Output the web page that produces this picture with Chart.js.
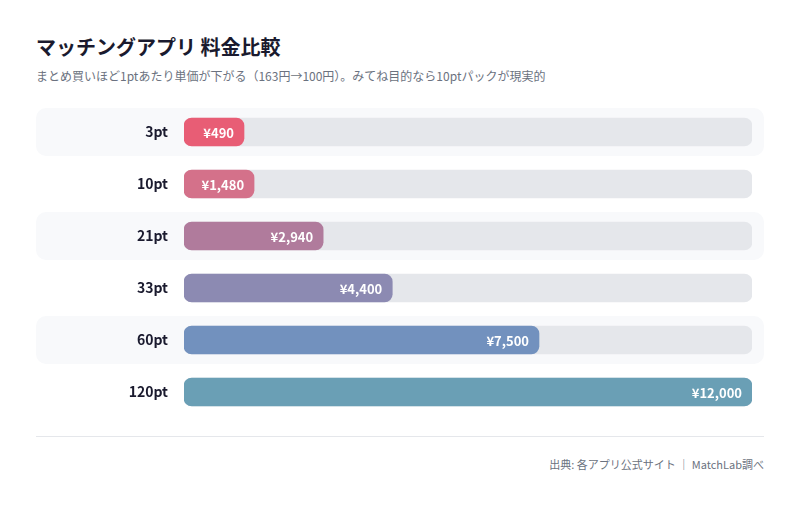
<!DOCTYPE html>
<html lang="ja">
<head>
<meta charset="utf-8">
<script src="https://cdn.jsdelivr.net/npm/chart.js@4"></script>
<style>
  body { margin: 0; background: #fff; font-family: "Noto Sans CJK JP", "Noto Sans", sans-serif; }
  .wrap { position: relative; width: 800px; height: 505px; }
  h1 { position: absolute; left: 36px; top: 33px; margin: 0; font-size: 20px; font-weight: 700; color: #1a1a2e; line-height: 28px; }
  .sub { position: absolute; left: 36px; top: 67px; margin: 0; font-size: 12px; color: #6b7280; line-height: 18px; }
  .chart { position: absolute; left: 36px; top: 106px; width: 728px; height: 312px; }
  .rule { position: absolute; left: 36px; top: 436px; width: 728px; height: 1px; background: #e5e7eb; }
  .src { position: absolute; right: 36px; top: 456px; font-size: 11px; color: #6b7280; line-height: 16px; }
</style>
</head>
<body>
<div class="wrap">
  <h1>マッチングアプリ 料金比較</h1>
  <p class="sub">まとめ買いほど1ptあたり単価が下がる（163円→100円）。みてね目的なら10ptパックが現実的</p>
  <div class="chart"><canvas id="bars"></canvas></div>
  <div class="rule"></div>
  <div class="src">出典: 各アプリ公式サイト ｜ MatchLab調べ</div>
</div>
<script>
var packs = ['3pt', '10pt', '21pt', '33pt', '60pt', '120pt'];
var prices = [490, 1480, 2940, 4400, 7500, 12000];
var barColors = ['#e85d75', '#d4718a', '#b07b9c', '#8c8ab2', '#7291be', '#6a9fb5'];
var maxPrice = 12000;

var rowBands = {
	id: 'rowBands',
	beforeDraw: function(chart) {
		var ctx = chart.ctx;
		var y = chart.scales.y;
		ctx.save();
		ctx.fillStyle = '#f8f9fb';
		for (var i = 0; i < packs.length; i += 2) {
			var cy = y.getPixelForValue(i);
			ctx.beginPath();
			ctx.roundRect(0, cy - 24, chart.width, 48, 10);
			ctx.fill();
		}
		ctx.restore();
	}
};

var valueLabels = {
	id: 'valueLabels',
	afterDatasetsDraw: function(chart) {
		var ctx = chart.ctx;
		var meta = chart.getDatasetMeta(0);
		ctx.save();
		ctx.font = 'bold 13px "Noto Sans CJK JP", "Noto Sans", sans-serif';
		ctx.fillStyle = '#ffffff';
		ctx.textAlign = 'right';
		ctx.textBaseline = 'middle';
		meta.data.forEach(function(bar, i) {
			ctx.fillText('¥' + prices[i].toLocaleString('en-US'), bar.x - 10, bar.y + 1);
		});
		ctx.restore();
	}
};

new Chart(document.getElementById('bars'), {
	type: 'bar',
	data: {
		labels: packs,
		datasets: [{
			data: prices,
			backgroundColor: barColors,
			borderRadius: 8,
			borderSkipped: false,
			barThickness: 28,
			minBarLength: 60,
			grouped: false
		}, {
			data: packs.map(function() { return maxPrice; }),
			backgroundColor: '#e5e7eb',
			borderRadius: 8,
			borderSkipped: false,
			barThickness: 28,
			grouped: false
		}]
	},
	options: {
		indexAxis: 'y',
		responsive: true,
		maintainAspectRatio: false,
		animation: false,
		layout: { padding: { left: 0, right: 12, top: 0, bottom: 0 } },
		plugins: { legend: { display: false }, tooltip: { enabled: false } },
		scales: {
			x: { display: false, min: 0, max: maxPrice },
			y: {
				grid: { display: false, drawTicks: false },
				border: { display: false },
				afterFit: function(scale) {
					scale.width = 148;
					scale.paddingTop = 0;
					scale.paddingBottom = 0;
				},
				ticks: {
					padding: 16,
					color: '#1a1a2e',
					font: { family: '"Noto Sans CJK JP", "Noto Sans", sans-serif', size: 14, weight: 'bold' }
				}
			}
		}
	},
	plugins: [rowBands, valueLabels]
});
</script>
</body>
</html>
